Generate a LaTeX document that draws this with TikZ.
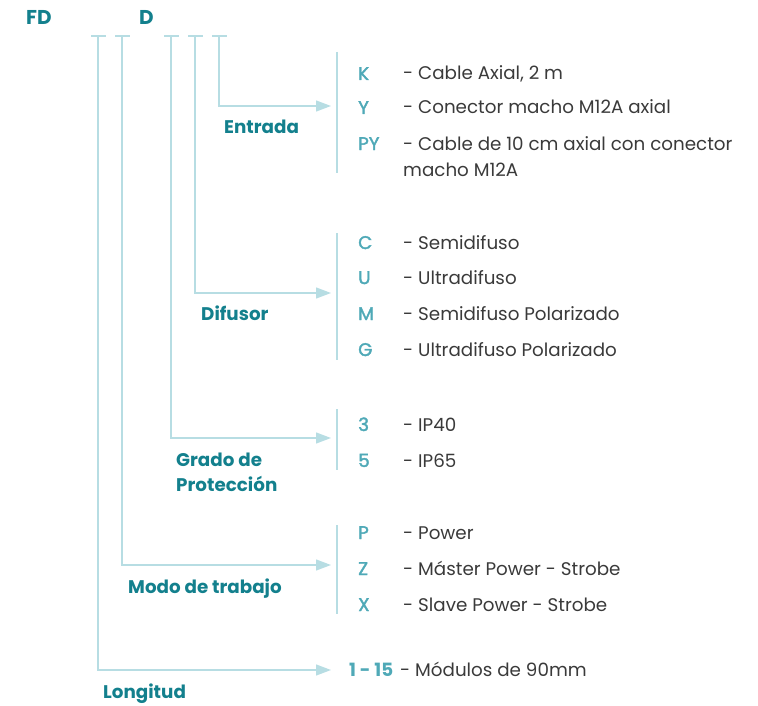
\documentclass[tikz,border=0pt]{standalone}
\usepackage{fontspec}
\setmainfont{Poppins}
\newfontfamily\medfont{Poppins}[FakeBold=2]
\usetikzlibrary{arrows.meta}
\definecolor{dark}{HTML}{13808D}
\definecolor{code}{HTML}{4FA9B7}
\definecolor{lnc}{HTML}{B7DDE3}
\definecolor{body}{HTML}{3A3A3A}
\tikzset{
  ln/.style={draw=lnc,line width=1.3pt},
  arr/.style={ln,-{Triangle[length=15pt,width=11pt]}},
  ttl/.style={anchor=base west,inner sep=0pt,text=dark,font=\fontsize{18.3}{22}\selectfont\bfseries},
  cd/.style={anchor=base west,inner sep=0pt,text=code,font=\fontsize{18.3}{22}\selectfont\medfont},
  ds/.style={anchor=base west,inner sep=0pt,text=body,font=\fontsize{18.3}{22}\selectfont},
}
\begin{document}
\begin{tikzpicture}[x=1pt,y=-1pt]
\useasboundingbox (0,0) rectangle (758,706);
% header
\node[ttl,font=\fontsize{20}{22}\selectfont\bfseries] (fd) at (26,25) {FD};
\node[ttl,font=\fontsize{20}{22}\selectfont\bfseries] (d) at (139,25) {D};
% tick positions
\foreach \n/\x in {t1/98,t2/122,t3/171,t4/195,t5/219}{
  \coordinate (\n) at (\x,36);
  \draw[ln] ([xshift=-7pt]\n) -- ([xshift=8pt]\n);
}
% arrow targets
\coordinate (aE) at (331,106);
\coordinate (aD) at (331,293);
\coordinate (aG) at (331,438);
\coordinate (aM) at (331,565);
\coordinate (aL) at (331,670);
\draw[arr] (t5) |- (aE);
\draw[arr] (t4) |- (aD);
\draw[arr] (t3) |- (aG);
\draw[arr] (t2) |- (aM);
\draw[arr] (t1) |- (aL);
% brackets
\coordinate (bE1) at (337,52);  \coordinate (bE2) at (337,173);
\coordinate (bD1) at (337,233); \coordinate (bD2) at (337,360);
\coordinate (bG1) at (337,409); \coordinate (bG2) at (337,470);
\coordinate (bM1) at (337,525); \coordinate (bM2) at (337,614);
\draw[ln] (bE1) -- (bE2);
\draw[ln] (bD1) -- (bD2);
\draw[ln] (bG1) -- (bG2);
\draw[ln] (bM1) -- (bM2);
% group labels
\node[ttl] (lE) at (224,134) {Entrada};
\node[ttl] (lD) at (201,320) {Difusor};
\node[ttl] (lG) at (176,466) {Grado de};
\node[ttl] (lG2) at (176,491) {Protección};
\node[ttl] (lM) at (128,593) {Modo de trabajo};
\node[ttl] (lL) at (103,698) {Longitud};
% Entrada options
\node[cd] (cK) at (358,80) {K};
\node[ds] (dK) at (403,80) {- Cable Axial, 2 m};
\node[cd] (cY) at (358,114) {Y};
\node[ds] (dY) at (403,114) {- Conector macho M12A axial};
\node[cd] (cPY) at (358,150) {PY};
\node[ds] (dPY) at (403,150) {- Cable de 10 cm axial con conector};
\node[ds] (dPY2) at (403,176) {macho M12A};
% Difusor options
\node[cd] (cC) at (358,249) {C};
\node[ds] (dC) at (403,249) {- Semidifuso};
\node[cd] (cU) at (358,284) {U};
\node[ds] (dU) at (403,284) {- Ultradifuso};
\node[cd] (cM) at (358,320) {M};
\node[ds] (dM) at (403,320) {- Semidifuso Polarizado};
\node[cd] (cG) at (358,356) {G};
\node[ds] (dG) at (403,356) {- Ultradifuso Polarizado};
% Grado options
\node[cd] (c3) at (358,431) {3};
\node[ds] (d3) at (403,431) {- IP40};
\node[cd] (c5) at (358,467) {5};
\node[ds] (d5) at (403,467) {- IP65};
% Modo options
\node[cd] (cP) at (358,539) {P};
\node[ds] (dP) at (403,539) {- Power};
\node[cd] (cZ) at (358,575) {Z};
\node[ds] (dZ) at (403,575) {- Máster Power - Strobe};
\node[cd] (cX) at (358,611) {X};
\node[ds] (dX) at (403,611) {- Slave Power - Strobe};
% Longitud
\node[cd,font=\fontsize{18.3}{22}\selectfont\bfseries] (cL) at (349,676) {1 - 15};
\node[ds] (dL) at (400,676) {- Módulos de 90mm};
\end{tikzpicture}
\end{document}
